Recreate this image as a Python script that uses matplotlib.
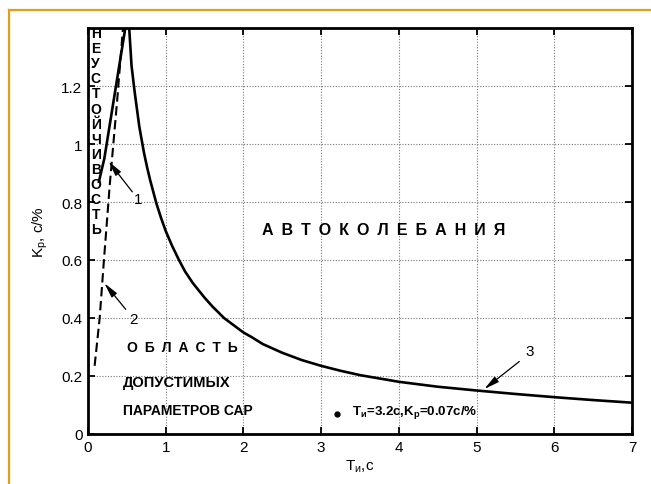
import matplotlib
matplotlib.use("Agg")
import matplotlib.pyplot as plt
from matplotlib.lines import Line2D

plt.rcParams['font.family'] = ['Liberation Sans', 'DejaVu Sans']
plt.rcParams['mathtext.default'] = 'regular'

# boundary 1 (rising branch) and 3 (falling branch) of the stability region
t_bound = [0.14, 0.21, 0.30, 0.39, 0.48, 0.505, 0.53, 0.56, 0.60, 0.63, 0.66, 0.72,
           0.76, 0.80, 0.84, 0.88, 0.94, 1.0, 1.08, 1.17, 1.25, 1.35, 1.5, 1.6,
           1.75, 1.9, 2.0, 2.1, 2.25, 2.5, 2.75, 3.0, 3.25, 3.5, 4.0, 4.5,
           5.0, 5.5, 6.0, 6.5, 7.0]
k_bound = [0.87, 0.95, 1.10, 1.25, 1.40, 1.45, 1.40, 1.27, 1.18, 1.12, 1.06, 0.97,
           0.92, 0.875, 0.835, 0.795, 0.745, 0.70, 0.65, 0.60, 0.56, 0.52, 0.47, 0.44,
           0.40, 0.37, 0.35, 0.335, 0.31, 0.28, 0.255, 0.235, 0.218, 0.203, 0.18, 0.163,
           0.150, 0.138, 0.127, 0.117, 0.108]

# boundary 2 (dashed)
t_dash = [0.085, 0.15, 0.205, 0.28, 0.375, 0.45]
k_dash = [0.235, 0.40, 0.60, 0.86, 1.15, 1.40]

# chosen tuning point
t_op, k_op = 3.2, 0.07

x_ticks = [0, 1, 2, 3, 4, 5, 6, 7]
y_ticks = [0, 0.2, 0.4, 0.6, 0.8, 1.0, 1.2]
y_ticklabels = ['0', '0.2', '0.4', '0.6', '0.8', '1', '1.2']

fig = plt.figure(figsize=(6.51, 4.85), dpi=100)
ax = fig.add_axes([0.1352, 0.1031, 0.8356, 0.8371])

ax.plot(t_bound, k_bound, color='black', lw=1.9, solid_joinstyle='round')
ax.plot(t_dash, k_dash, color='black', lw=1.5, dashes=(4.5, 2.2))
ax.plot([t_op], [k_op], 'o', color='black', ms=3.5)

ax.set_xlim(0, 7)
ax.set_ylim(0, 1.4)
ax.set_xticks(x_ticks)
ax.set_yticks(y_ticks)
ax.set_yticklabels(y_ticklabels)
ax.tick_params(direction='in', top=True, right=True, length=5, width=1.3,
               labelsize=11, pad=4)
ax.grid(True, linestyle=(0, (1, 1.5)), color='#777777', lw=0.8)
for s in ax.spines.values():
    s.set_linewidth(2)

ax.set_xlabel('T$_{и}$,c', fontsize=11, labelpad=3)
ax.set_ylabel('K$_{p}$, c/%', fontsize=11, labelpad=8)

sp = '\u2002'
ax.text(3.8, 0.705, sp.join('АВТОКОЛЕБАНИЯ'), fontsize=11.5, fontweight='bold',
        ha='center', va='center')
ax.text(0.5, 0.30, sp.join('ОБЛАСТЬ'), fontsize=10, fontweight='bold',
        ha='left', va='center')
ax.text(0.45, 0.18, 'ДОПУСТИМЫХ', fontsize=10.5, fontweight='bold',
        ha='left', va='center')
ax.text(0.45, 0.083, 'ПАРАМЕТРОВ САР', fontsize=10, fontweight='bold',
        ha='left', va='center')
ax.text(3.40, 0.078, 'T$_{и}$=3.2c,K$_{p}$=0.07c/%', fontsize=9.5,
        fontweight='bold', ha='left', va='center')
ax.text(0.10, 1.044, '\n'.join('НЕУСТОЙЧИВОСТЬ'), fontsize=10, fontweight='bold',
        ha='center', va='center', linespacing=1.1)

arrow = dict(arrowstyle='-|>,head_length=0.9,head_width=0.2', color='black', lw=0.9,
             shrinkA=0, shrinkB=0)
ax.annotate('', xy=(0.265, 0.94), xytext=(0.57, 0.835), arrowprops=arrow)
ax.text(0.64, 0.81, '1', fontsize=11, ha='center', va='center')
ax.annotate('', xy=(0.21, 0.52), xytext=(0.485, 0.43), arrowprops=arrow)
ax.text(0.58, 0.395, '2', fontsize=11, ha='center', va='center')
ax.annotate('', xy=(5.1, 0.155), xytext=(5.55, 0.25), arrowprops=arrow)
ax.text(5.68, 0.285, '3', fontsize=11, ha='center', va='center')

# frame lines along the top and left edges
W, H = 651, 485
fig.add_artist(Line2D([9 / W, 1], [1 - 11 / H, 1 - 11 / H], color='#e0a01c', lw=1.6))
fig.add_artist(Line2D([9 / W, 9 / W], [0, 1 - 11 / H], color='#e0a01c', lw=1.6))

fig.savefig('out.png', dpi=100)
